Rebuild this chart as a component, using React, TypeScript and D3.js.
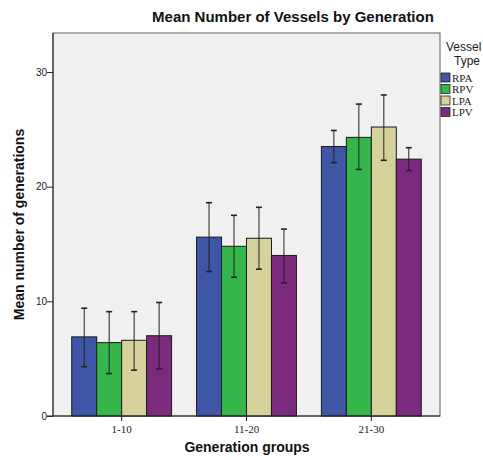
import { useEffect, useRef } from 'react'
import * as d3 from 'd3'

// Mean number of vessels per generation group, with error bars
const groups = ['1-10', '11-20', '21-30']
const vesselTypes = ['RPA', 'RPV', 'LPA', 'LPV']
const colors = ['#3f56a6', '#35b64a', '#d6d29c', '#7c2a7e']

const rpaMean = [6.9, 15.6, 23.5]
const rpvMean = [6.4, 14.8, 24.3]
const lpaMean = [6.6, 15.5, 25.2]
const lpvMean = [7.0, 14.0, 22.4]

const rpaLow = [4.3, 12.6, 22.1]
const rpaHigh = [9.4, 18.6, 24.9]
const rpvLow = [3.7, 12.1, 21.5]
const rpvHigh = [9.1, 17.5, 27.2]
const lpaLow = [4.0, 12.8, 22.3]
const lpaHigh = [9.1, 18.2, 28.0]
const lpvLow = [4.1, 11.6, 21.4]
const lpvHigh = [9.9, 16.3, 23.4]

const yTicks = [0, 10, 20, 30]

export default function App() {
  const ref = useRef<SVGSVGElement>(null)

  useEffect(() => {
    const el = ref.current
    if (!el) return
    const svg = d3.select(el)
    svg.selectAll('*').remove()

    const left = 53
    const right = 440
    const top = 33
    const bottom = 416

    const means = [rpaMean, rpvMean, lpaMean, lpvMean]
    const lows = [rpaLow, rpvLow, lpaLow, lpvLow]
    const highs = [rpaHigh, rpvHigh, lpaHigh, lpvHigh]

    const rows = groups.flatMap((g, gi) =>
      vesselTypes.map((t, ti) => ({
        group: g,
        type: t,
        color: colors[ti],
        mean: means[ti][gi],
        low: lows[ti][gi],
        high: highs[ti][gi],
      }))
    )

    const y = d3.scaleLinear().domain([0, 33.4]).range([bottom, top])
    const x0 = d3.scaleBand().domain(groups).range([left, right]).paddingInner(0.2).paddingOuter(0.15)
    const x1 = d3.scaleBand().domain(vesselTypes).range([0, x0.bandwidth()]).padding(0)

    // plot background + frame
    svg
      .append('rect')
      .attr('x', left)
      .attr('y', top)
      .attr('width', right - left)
      .attr('height', bottom - top)
      .attr('fill', '#f0f0f0')
      .attr('stroke', '#7a7a7a')
      .attr('stroke-width', 1.2)

    // bars
    svg
      .append('g')
      .selectAll('rect')
      .data(rows)
      .join('rect')
      .attr('x', d => (x0(d.group) ?? 0) + (x1(d.type) ?? 0))
      .attr('y', d => y(d.mean))
      .attr('width', x1.bandwidth())
      .attr('height', d => y(0) - y(d.mean))
      .attr('fill', d => d.color)
      .attr('stroke', '#1a1a1a')
      .attr('stroke-width', 1)

    // error bars
    const eb = svg.append('g').attr('stroke', '#222').attr('stroke-width', 1)
    rows.forEach(d => {
      const cx = (x0(d.group) ?? 0) + (x1(d.type) ?? 0) + x1.bandwidth() / 2
      eb.append('line').attr('x1', cx).attr('x2', cx).attr('y1', y(d.low)).attr('y2', y(d.high))
      eb.append('line').attr('x1', cx - 3).attr('x2', cx + 3).attr('y1', y(d.low)).attr('y2', y(d.low)).attr('stroke-width', 1.6)
      eb.append('line').attr('x1', cx - 3).attr('x2', cx + 3).attr('y1', y(d.high)).attr('y2', y(d.high)).attr('stroke-width', 1.6)
    })

    // y axis
    const yAxis = svg
      .append('g')
      .attr('transform', `translate(${left},0)`)
      .call(d3.axisLeft(y).tickValues(yTicks).tickSize(6).tickSizeOuter(0).tickFormat(d3.format('d')))
    yAxis.select('.domain').attr('d', `M0,${top}V${bottom}`).attr('stroke', '#222')
    yAxis.selectAll('.tick line').attr('stroke', '#222')
    yAxis
      .selectAll('.tick text')
      .attr('font-family', 'Liberation Sans, Arial, sans-serif')
      .attr('font-size', 10)
      .attr('fill', '#222')
      .attr('x', -6)

    // x axis
    const xAxis = svg
      .append('g')
      .attr('transform', `translate(0,${bottom})`)
      .call(d3.axisBottom(x0).tickSize(5).tickSizeOuter(0))
    xAxis.select('.domain').attr('d', `M${left - 6},0H${right}`).attr('stroke', '#222')
    xAxis.selectAll('.tick line').attr('stroke', '#222')
    xAxis
      .selectAll('.tick text')
      .attr('font-family', 'Liberation Serif, Times New Roman, serif')
      .attr('font-size', 11)
      .attr('fill', '#222')
      .attr('y', 9)

    // title and axis labels
    svg
      .append('text')
      .attr('x', 293)
      .attr('y', 22)
      .attr('text-anchor', 'middle')
      .attr('font-family', 'Liberation Sans, Arial, sans-serif')
      .attr('font-weight', 'bold')
      .attr('font-size', 15)
      .attr('fill', '#111')
      .text('Mean Number of Vessels by Generation')

    svg
      .append('text')
      .attr('x', 247)
      .attr('y', 452)
      .attr('text-anchor', 'middle')
      .attr('font-family', 'Liberation Sans, Arial, sans-serif')
      .attr('font-weight', 'bold')
      .attr('font-size', 14)
      .attr('fill', '#111')
      .text('Generation groups')

    svg
      .append('text')
      .attr('transform', `translate(24,${(top + bottom) / 2}) rotate(-90)`)
      .attr('text-anchor', 'middle')
      .attr('font-family', 'Liberation Sans, Arial, sans-serif')
      .attr('font-weight', 'bold')
      .attr('font-size', 14)
      .attr('fill', '#111')
      .text('Mean number of generations')

    // legend
    const lg = svg.append('g')
    lg.append('text')
      .attr('x', 446)
      .attr('y', 51)
      .attr('font-family', 'Liberation Sans, Arial, sans-serif')
      .attr('font-size', 12)
      .attr('fill', '#222')
      .text('Vessel')
    lg.append('text')
      .attr('x', 454)
      .attr('y', 65)
      .attr('font-family', 'Liberation Sans, Arial, sans-serif')
      .attr('font-size', 12)
      .attr('fill', '#222')
      .text('Type')
    const item = lg
      .selectAll('g.item')
      .data(vesselTypes)
      .join('g')
      .attr('class', 'item')
      .attr('transform', (_, i) => `translate(441,${73 + i * 11.5})`)
    item
      .append('rect')
      .attr('width', 9)
      .attr('height', 9)
      .attr('fill', (_, i) => colors[i])
      .attr('stroke', '#222')
      .attr('stroke-width', 0.8)
    item
      .append('text')
      .attr('x', 11)
      .attr('y', 8.5)
      .attr('font-family', 'Liberation Serif, Times New Roman, serif')
      .attr('font-size', 11)
      .attr('fill', '#222')
      .text(d => d)
  }, [])

  return (
    <svg
      ref={ref}
      width={483}
      height={460}
      style={{ position: 'absolute', left: 0, top: 0, background: '#fff' }}
    />
  )
}
